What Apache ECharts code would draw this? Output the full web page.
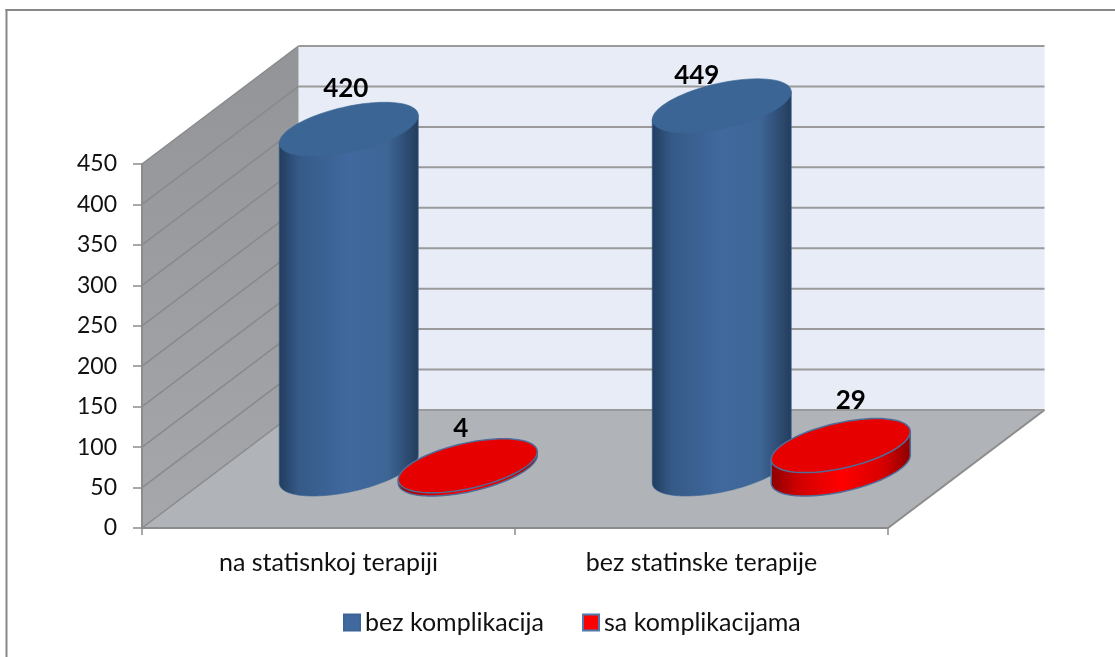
<!DOCTYPE html>
<html><head><meta charset="utf-8">
<style>html,body{margin:0;padding:0;background:#fff}#c{width:1115px;height:657px}</style>
<script src="https://cdn.jsdelivr.net/npm/echarts@6/dist/echarts.min.js"></script>
</head><body><div id="c"></div>
<script>
var categories = ['na statisnkoj terapiji', 'bez statinske terapije'];
var bezKomplikacija = [420, 449];
var saKomplikacijama = [4, 29];
var yTicks = [0, 50, 100, 150, 200, 250, 300, 350, 400, 450];

var DEPTH = [156.5, -118];      // 3D depth vector of the floor
var R_X = 59.6, R_D = 0.229;  // disc radius: along x, and fraction of depth
var FONT = 'Lato, "Open Sans", sans-serif';
var LW = new echarts.graphic.LinearGradient(0, 0, 0, 1, [{offset:0,color:'#939497'},{offset:1,color:'#a6a7aa'}]);
var chart = echarts.init(document.getElementById('c'), null, {renderer:'canvas'});

function disc(cx, cy, from, to) {
  var pts = [];
  var B = DEPTH[0] * R_D, C = DEPTH[1] * R_D;
  for (var i = 0; i <= 72; i++) {
    var t = from + (to - from) * i / 72;
    pts.push([cx + R_X * Math.cos(t) + B * Math.sin(t), cy + C * Math.sin(t)]);
  }
  return pts;
}
function cylinderSeries(name, values, xOff, z, st, nudges) {
  return {
    name: name, type: 'custom', coordinateSystem: 'cartesian2d', z: z, clip: false, silent: true,
    itemStyle: {color: st.legend, borderColor: st.legendBorder, borderWidth: 1.5},
    data: values.map(function (v, i) { return [i, v]; }),
    encode: {x: 0, y: 1},
    renderItem: function (params, api) {
      var idx = api.value(0), val = api.value(1);
      var top = api.coord([idx, val]), base = api.coord([idx, 0]);
      var cx = base[0] + DEPTH[0] / 2 + 1.5 + xOff;
      var by = base[1] + DEPTH[1] / 2, ty = top[1] + DEPTH[1] / 2;
      var t0 = Math.atan2(DEPTH[0] * R_D, R_X);
      var lower = disc(cx, by, t0 + Math.PI, t0 + 2 * Math.PI);
      var upL = disc(cx, ty, t0 + Math.PI, t0 + Math.PI)[0];
      var upR = disc(cx, ty, t0, t0)[0];
      var body = [upL].concat(lower).concat([upR]);
      var n = nudges[idx];
      return {
        type: 'group',
        children: [
          {type:'polygon', shape:{points: body}, style:{fill: st.body, stroke: st.edge, lineWidth: st.edgeW}},
          {type:'polygon', shape:{points: disc(cx, ty, 0, 2 * Math.PI)}, style:{fill: st.top, stroke: st.edge, lineWidth: st.edgeW}},
          {type:'text', style:{text: String(val), x: cx + n[0], y: ty + n[1], align:'center', verticalAlign:'middle',
            font: 'bold 26px ' + FONT, fill:'#000'}}
        ]
      };
    }
  };
}

var blueStyle = {
  body: new echarts.graphic.LinearGradient(0,0,1,0,[{offset:0,color:'#223c5e'},{offset:0.14,color:'#355a87'},{offset:0.5,color:'#41699f'},{offset:0.78,color:'#3d6595'},{offset:1,color:'#243c5c'}]),
  top:'#3a6594', edge:'#3a6594', edgeW:0.6, legend:'#41699f', legendBorder:'#3a6594'
};
var redStyle = {
  body: new echarts.graphic.LinearGradient(0,0,1,0,[{offset:0,color:'#8c0000'},{offset:0.2,color:'#d00000'},{offset:0.5,color:'#ff0000'},{offset:0.8,color:'#d80000'},{offset:1,color:'#8c0000'}]),
  top:'#e60000', edge:'#4f6c98', edgeW:1.5, legend:'#ff0000', legendBorder:'#4f7aab'
};

var option = {
  backgroundColor:'#fff',
  animation:false,
  textStyle:{fontFamily:FONT},
  grid:{left:142, top:164, width:746, height:364, containLabel:false},
  graphic:[
    {type:'line', silent:true, shape:{x1:5.5,y1:10,x2:1115,y2:10}, style:{stroke:'#888', lineWidth:2}},
    {type:'line', silent:true, shape:{x1:6.5,y1:9,x2:6.5,y2:657}, style:{stroke:'#888', lineWidth:2}}
  ],
  legend:{
    data:['bez komplikacija','sa komplikacijama'], left:343, top:610, padding:0, icon:'rect',
    itemWidth:16, itemHeight:16, itemGap:38, selectedMode:false,
    textStyle:{fontFamily:FONT, fontSize:25, color:'#111'}
  },
  xAxis:{type:'category', data:categories, z:2,
    axisLine:{lineStyle:{color:'#8c8c8c', width:2}},
    axisTick:{show:true, length:7, lineStyle:{color:'#8c8c8c', width:1.5}},
    axisLabel:{fontFamily:FONT, fontSize:25, color:'#111', margin:22},
    splitLine:{show:false}
  },
  yAxis:{type:'value', min:0, max:450, interval:50, z:2,
    axisLine:{show:true, lineStyle:{color:'#8c8c8c', width:2}},
    axisTick:{show:true, length:9, lineStyle:{color:'#8c8c8c', width:1.5}},
    axisLabel:{fontFamily:FONT, fontSize:23, color:'#111', margin:25},
    splitLine:{show:false}
  },
  series:[
    { type:'custom', coordinateSystem:'cartesian2d', z:1, silent:true, clip:false, data:[[0,0]], encode:{x:0,y:1},
      renderItem:function(params, api){
        var o = api.coord([0,0]), t = api.coord([0,450]);
        var cs = params.coordSys, x0 = cs.x, x1 = cs.x + cs.width, y0 = o[1], y1 = t[1];
        var dx = DEPTH[0], dy = DEPTH[1];
        return {type:'group', children:[
          {type:'polygon', shape:{points:[[x0+dx,y1+dy],[x1+dx,y1+dy],[x1+dx,y0+dy],[x0+dx,y0+dy]]}, style:{fill:'#e7ecf6'}},
          {type:'polygon', shape:{points:[[x0,y0],[x0,y1],[x0+dx,y1+dy],[x0+dx,y0+dy]]}, style:{fill:LW}},
          {type:'polygon', shape:{points:[[x0,y0],[x1,y0],[x1+dx,y0+dy],[x0+dx,y0+dy]]}, style:{fill:'#b0b3b7'}},
          {type:'line', shape:{x1:x1,y1:y0,x2:x1+dx,y2:y0+dy}, style:{stroke:'#8c8c8c', lineWidth:2}}
        ]};
      }
    },
    { type:'custom', coordinateSystem:'cartesian2d', z:1, silent:true, clip:false,
      data:yTicks.map(function(v){return [0,v];}), encode:{x:0,y:1},
      renderItem:function(params, api){
        var p = api.coord([0, api.value(1)]);
        var cs = params.coordSys, x0 = cs.x, x1 = cs.x + cs.width;
        var dx = DEPTH[0], dy = DEPTH[1];
        return {type:'group', children:[
          {type:'line', shape:{x1:x0,y1:p[1],x2:x0+dx,y2:p[1]+dy}, style:{stroke:'#88898b', lineWidth:1.5}},
          {type:'line', shape:{x1:x0+dx,y1:p[1]+dy,x2:x1+dx,y2:p[1]+dy}, style:{stroke:'#9a9a9a', lineWidth:2}}
        ]};
      }
    },
    cylinderSeries('bez komplikacija', bezKomplikacija, -59.5, 3, blueStyle, [[-3,-41],[-25,-30]]),
    cylinderSeries('sa komplikacijama', saKomplikacijama, 59.5, 4, redStyle, [[-7,-37],[10,-45]])
  ]
};
chart.setOption(option);
</script></body></html>
